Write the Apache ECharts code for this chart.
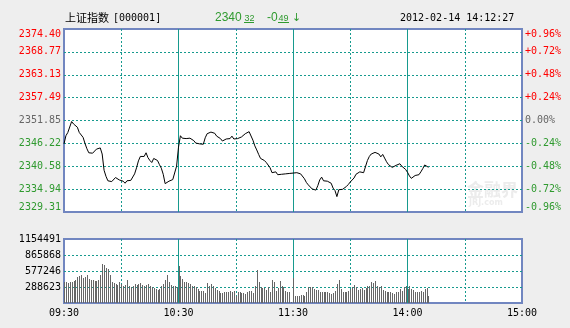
<!DOCTYPE html>
<html>
<head>
<meta charset="utf-8">
<script src="https://cdn.jsdelivr.net/npm/echarts@6/dist/echarts.min.js"></script>
<style>
  html, body { margin: 0; padding: 0; background: #eeeeee; }
  #chart { width: 570px; height: 328px; }
</style>
</head>
<body>
<div id="chart"></div>
<script>
// 上证指数 intraday minute data, 2012-02-14
const indexName = '上证指数';
const indexCode = '[000001]';
const stamp = '2012-02-14 14:12:27';
const prevClose = 2351.85;

// axis tick labels, bottom to top
const priceTicks = ['2329.31', '2334.94', '2340.58', '2346.22', '2351.85', '2357.49', '2363.13', '2368.77', '2374.40'];
const pctTicks = ['-0.96%', '-0.72%', '-0.48%', '-0.24%', '0.00%', '+0.24%', '+0.48%', '+0.72%', '+0.96%'];
const volumeTicks = ['', '288623', '577246', '865868', '1154491'];
const timeTicks = ['09:30', '10:30', '11:30', '14:00', '15:00'];

// last price of each trading minute (09:30 onward, afternoon continues after 11:30)
const prices = [
  2346.1, 2348.1, 2348.9, 2349.3, 2351.6, 2351.0, 2351.1, 2350.2, 2348.9, 2348.8,
  2347.7, 2346.2, 2344.9, 2343.9, 2343.6, 2343.8, 2344.0, 2344.8, 2345.2, 2345.1,
  2343.6, 2339.6, 2338.1, 2337.0, 2336.6, 2336.8, 2337.1, 2337.8, 2337.6, 2337.2,
  2337.3, 2336.9, 2336.4, 2337.0, 2336.8, 2337.1, 2337.5, 2338.7, 2340.2, 2341.9,
  2343.0, 2343.4, 2343.0, 2343.9, 2342.7, 2342.0, 2341.5, 2342.5, 2342.7, 2342.0,
  2341.0, 2340.1, 2338.6, 2336.3, 2336.4, 2336.9, 2337.0, 2337.3, 2337.5, 2340.6,
  2345.3, 2348.1, 2347.5, 2347.3, 2347.4, 2347.2, 2347.5, 2347.6, 2346.9, 2346.3,
  2345.9, 2346.1, 2345.8, 2346.0, 2347.6, 2348.6, 2348.8, 2349.0, 2349.2, 2348.7,
  2348.0, 2347.9, 2347.4, 2346.8, 2346.9, 2347.3, 2347.6, 2347.4, 2348.0, 2347.3,
  2347.0, 2347.4, 2347.5, 2347.8, 2347.7, 2348.6, 2348.8, 2349.1, 2348.9, 2347.0,
  2345.6, 2344.6, 2343.5, 2342.5, 2342.3, 2342.0, 2341.5, 2341.2, 2340.2, 2339.0,
  2338.8, 2339.2, 2338.5, 2338.2, 2338.6, 2338.4, 2338.7, 2338.8, 2338.8, 2339.0,
  2338.9, 2339.3, 2339.0, 2339.1, 2338.7, 2338.3, 2337.5, 2336.6, 2336.0, 2335.6,
  2335.0, 2334.8, 2334.7, 2335.8, 2337.2, 2337.9, 2337.0, 2336.9, 2336.9, 2336.8,
  2336.4, 2335.2, 2334.6, 2333.1, 2334.8, 2334.9, 2334.9, 2335.1, 2335.6, 2336.1,
  2336.7, 2337.1, 2337.7, 2338.6, 2339.0, 2339.2, 2339.1, 2339.0, 2339.4, 2342.0,
  2343.0, 2343.6, 2344.0, 2344.0, 2343.9, 2343.6, 2342.9, 2343.5, 2342.6, 2341.7,
  2341.0, 2340.7, 2340.3, 2340.5, 2340.8, 2341.2, 2341.2, 2340.6, 2340.2, 2339.8,
  2339.1, 2338.2, 2337.6, 2337.8, 2338.3, 2338.5, 2338.5, 2339.2, 2340.0, 2340.9,
  2340.7, 2340.32
];

// traded volume of each minute, in thousands
const volumesK = [
  380, 371, 359, 383, 371, 389, 418, 471, 489, 506,
  448, 477, 500, 430, 418, 418, 389, 400, 418, 506,
  701, 683, 636, 618, 506, 383, 359, 348, 324, 383,
  342, 312, 324, 418, 300, 283, 300, 342, 324, 342,
  359, 330, 300, 324, 342, 300, 283, 265, 253, 241,
  253, 300, 342, 418, 514, 383, 324, 300, 300, 283,
  666, 489, 430, 383, 371, 359, 336, 312, 300, 283,
  253, 224, 212, 212, 183, 364, 312, 336, 300, 265,
  241, 212, 177, 177, 194, 206, 206, 212, 194, 212,
  135, 194, 206, 177, 183, 165, 206, 212, 224, 183,
  312, 595, 383, 295, 271, 265, 236, 283, 206, 418,
  383, 224, 265, 400, 312, 283, 224, 206, 206, 18,
  442, 118, 118, 118, 153, 153, 135, 206, 295, 295,
  295, 253, 241, 241, 206, 206, 194, 194, 194, 183,
  165, 183, 224, 342, 418, 253, 194, 194, 206, 224,
  253, 283, 324, 283, 236, 253, 271, 241, 271, 300,
  312, 371, 359, 400, 312, 283, 300, 241, 224, 206,
  194, 194, 183, 165, 194, 206, 253, 224, 283, 300,
  253, 300, 253, 241, 206, 194, 206, 224, 194, 253,
  271, 118
];

const RED = '#ff0000';
const GREEN = '#2f9a2f';
const FLAT = '#666666';
const GRID = '#179a8e';
const FRAME = '#7186c0';
const MONO = '"DejaVu Sans Mono", "Liberation Mono", monospace';
const LABEL_SIZE = 10;

const priceMin = parseFloat(priceTicks[0]);
const priceMax = parseFloat(priceTicks[priceTicks.length - 1]);
const priceStep = (priceMax - priceMin) / (priceTicks.length - 1);
const pctMin = -0.96, pctMax = 0.96, pctStep = 0.24;
const volMax = parseFloat(volumeTicks[volumeTicks.length - 1]);
const volStep = volMax / (volumeTicks.length - 1);
const sessionMinutes = 240;

function toneOf(diff) {
  if (diff > 1e-9) return RED;
  if (diff < -1e-9) return GREEN;
  return FLAT;
}

const lastPrice = prices[prices.length - 1];
const changePct = (lastPrice / prevClose - 1) * 100;
const lastParts = lastPrice.toFixed(2).split('.');
const chgParts = changePct.toFixed(2).split('.');
const chgColor = toneOf(changePct);

const dashed = { show: true, showMinLine: false, showMaxLine: false, lineStyle: { color: GRID, width: 1, type: [2, 2] } };
const solid = { show: true, showMinLine: false, showMaxLine: false, lineStyle: { color: GRID, width: 1, type: 'solid' } };

function timeAxis(gridIndex, interval, splitLine, withLabels) {
  return {
    type: 'value', gridIndex, position: 'bottom', min: 0, max: sessionMinutes, interval,
    axisLine: { show: false }, axisTick: { show: false }, splitLine,
    axisLabel: withLabels ? {
      show: true, showMinLabel: true, showMaxLabel: true, margin: 5,
      color: '#000', fontFamily: MONO, fontSize: LABEL_SIZE,
      formatter: v => timeTicks[Math.round(v / interval)] || ''
    } : { show: false }
  };
}

// one-pixel volume bars snapped to whole pixels so they stay crisp
function renderVolume(params, api) {
  const top = api.coord([api.value(0), api.value(1)]);
  const base = api.coord([api.value(0), 0]);
  const x = Math.round(top[0]);
  const y = Math.round(top[1]);
  return {
    type: 'rect',
    shape: { x: x, y: y, width: 1, height: Math.round(base[1]) - y },
    style: { fill: '#666666' }
  };
}

const chart = echarts.init(document.getElementById('chart'), null, { renderer: 'canvas' });

chart.setOption({
  animation: false,
  backgroundColor: '#eeeeee',
  grid: [
    { left: 64, top: 29, width: 458, height: 183, show: true, backgroundColor: '#ffffff', borderColor: FRAME, borderWidth: 2 },
    { left: 64, top: 239, width: 458, height: 64, show: true, backgroundColor: '#ffffff', borderColor: FRAME, borderWidth: 2 }
  ],
  xAxis: [
    timeAxis(0, 30, dashed, false),
    timeAxis(0, 60, solid, false),
    timeAxis(1, 30, dashed, false),
    timeAxis(1, 60, solid, true)
  ],
  yAxis: [
    {
      type: 'value', gridIndex: 0, position: 'right', min: pctMin, max: pctMax, interval: pctStep,
      axisLine: { show: false }, axisTick: { show: false }, splitLine: dashed,
      axisLabel: {
        margin: 3, fontFamily: MONO, fontSize: LABEL_SIZE, showMinLabel: true, showMaxLabel: true,
        verticalAlignMinLabel: 'bottom', verticalAlignMaxLabel: 'top',
        formatter: v => pctTicks[Math.round((v - pctMin) / pctStep)],
        color: v => toneOf(parseFloat(v))
      }
    },
    {
      type: 'value', gridIndex: 0, position: 'left', min: priceMin, max: priceMax, alignTicks: true,
      axisLine: { show: false }, axisTick: { show: false }, splitLine: { show: false },
      axisLabel: {
        margin: 3, fontFamily: MONO, fontSize: LABEL_SIZE, showMinLabel: true, showMaxLabel: true,
        verticalAlignMinLabel: 'bottom', verticalAlignMaxLabel: 'top',
        formatter: v => priceTicks[Math.round((v - priceMin) / priceStep)],
        color: v => toneOf(parseFloat(priceTicks[Math.round((parseFloat(v) - priceMin) / priceStep)]) - prevClose)
      }
    },
    {
      type: 'value', gridIndex: 1, min: 0, max: volMax, interval: volStep,
      axisLine: { show: false }, axisTick: { show: false }, splitLine: dashed,
      axisLabel: {
        margin: 3, fontFamily: MONO, fontSize: LABEL_SIZE, color: '#000', showMaxLabel: true,
        formatter: v => volumeTicks[Math.round(v / volStep)]
      }
    }
  ],
  series: [
    {
      type: 'line', xAxisIndex: 0, yAxisIndex: 1,
      data: prices.map((p, i) => [i, p]),
      symbol: 'none', silent: true, z: 5,
      lineStyle: { color: '#000000', width: 1 }
    },
    {
      type: 'custom', xAxisIndex: 2, yAxisIndex: 2,
      data: volumesK.map((v, i) => [i, v * 1000]),
      renderItem: renderVolume, silent: true
    }
  ],
  graphic: [
    { type: 'text', x: 65, y: 18, style: { text: indexName, font: '11px "Noto Sans CJK SC"', fill: '#000', verticalAlign: 'middle' } },
    { type: 'text', x: 113, y: 18, style: { text: indexCode, font: LABEL_SIZE + 'px ' + MONO, fill: '#000', verticalAlign: 'middle' } },
    { type: 'text', x: 215, y: 18, style: { text: lastParts[0], font: '12px "Liberation Sans"', fill: chgColor, verticalAlign: 'middle' } },
    { type: 'text', x: 244.5, y: 18.5, style: { text: lastParts[1], font: '9px "Liberation Sans"', fill: chgColor, verticalAlign: 'middle' } },
    { type: 'line', shape: { x1: 244, y1: 22.5, x2: 254, y2: 22.5 }, style: { stroke: chgColor, lineWidth: 1 } },
    { type: 'text', x: 267, y: 18, style: { text: chgParts[0], font: '12px "Liberation Sans"', fill: chgColor, verticalAlign: 'middle' } },
    { type: 'text', x: 278.5, y: 18.5, style: { text: chgParts[1], font: '9px "Liberation Sans"', fill: chgColor, verticalAlign: 'middle' } },
    { type: 'line', shape: { x1: 278, y1: 22.5, x2: 289, y2: 22.5 }, style: { stroke: chgColor, lineWidth: 1 } },
    { type: 'text', x: 292, y: 18, style: { text: changePct < 0 ? '↓' : '↑', font: '11px "DejaVu Sans"', fill: chgColor, verticalAlign: 'middle' } },
    { type: 'text', x: 400, y: 18, style: { text: stamp, font: LABEL_SIZE + 'px ' + MONO, fill: '#000', verticalAlign: 'middle' } },
    { type: 'text', x: 467, y: 190, z: 0, style: { text: '金融界', font: 'bold 17px "Noto Sans CJK SC"', fill: '#ececec', verticalAlign: 'middle' } },
    { type: 'text', x: 469, y: 203, z: 0, style: { text: 'JRJ.com', font: 'bold 8px "DejaVu Sans"', fill: '#ececec', verticalAlign: 'middle' } }
  ]
});
</script>
</body>
</html>
